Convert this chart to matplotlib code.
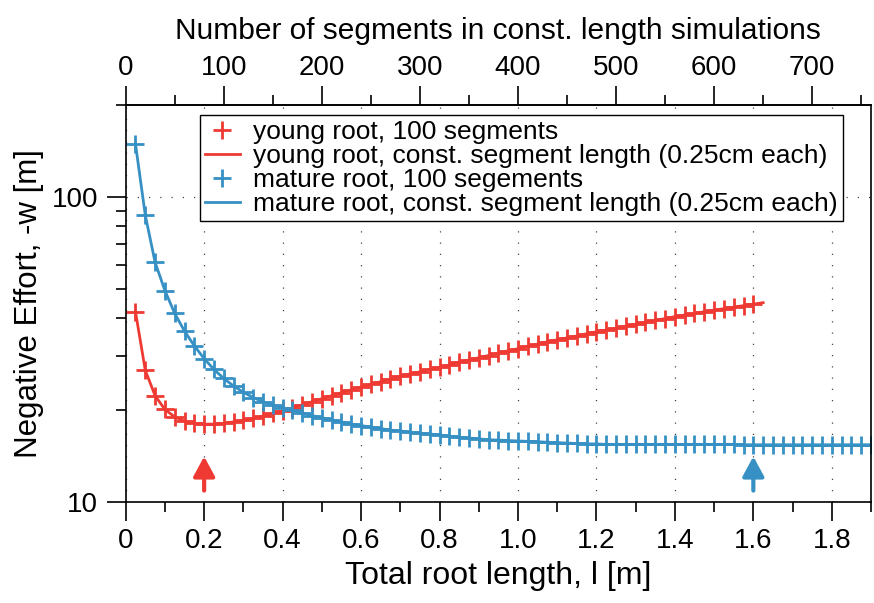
import matplotlib
matplotlib.use('Agg')
import matplotlib.pyplot as plt
from matplotlib.ticker import MultipleLocator, FixedLocator, FuncFormatter, NullFormatter, LogLocator

plt.rcParams['font.family'] = ['Liberation Sans', 'DejaVu Sans']

# root length [m] of the 100-segment runs (one marker each)
young_len = [0.025, 0.05, 0.075, 0.1, 0.125, 0.15, 0.175, 0.2, 0.225, 0.25,
             0.275, 0.3, 0.325, 0.35, 0.375, 0.4, 0.425, 0.45, 0.475, 0.5,
             0.525, 0.55, 0.575, 0.6, 0.625, 0.65, 0.675, 0.7, 0.725, 0.75,
             0.775, 0.8, 0.825, 0.85, 0.875, 0.9, 0.925, 0.95, 0.975, 1.0,
             1.025, 1.05, 1.075, 1.1, 1.125, 1.15, 1.175, 1.2, 1.225, 1.25,
             1.275, 1.3, 1.325, 1.35, 1.375, 1.4, 1.425, 1.45, 1.475, 1.5,
             1.525, 1.55, 1.575, 1.6]
young_w = [42.0, 27.0, 22.3, 20.1, 19.0, 18.4, 18.1, 18.0, 18.0, 18.1,
           18.3, 18.5, 18.8, 19.1, 19.5, 19.9, 20.3, 20.8, 21.3, 21.8,
           22.3, 22.8, 23.3, 23.8, 24.3, 24.8, 25.3, 25.8, 26.3, 26.7,
           27.2, 27.6, 28.1, 28.7, 29.2, 29.7, 30.2, 30.7, 31.3, 31.8,
           32.4, 32.9, 33.5, 34.0, 34.5, 35.0, 35.6, 36.1, 36.6, 37.1,
           37.7, 38.2, 38.8, 39.4, 39.9, 40.5, 41.0, 41.5, 42.0, 42.5,
           43.0, 43.5, 44.0, 44.5]

mature_len = young_len + [1.625, 1.65, 1.675, 1.7, 1.725, 1.75, 1.775, 1.8,
                          1.825, 1.85, 1.875, 1.9]
mature_w = [149, 87, 61, 49.3, 41.5, 36.3, 32.5, 29.5, 27.2, 25.4,
            24.0, 22.9, 22.0, 21.3, 20.8, 20.4, 20.0, 19.6, 19.2, 18.9,
            18.6, 18.3, 18.0, 17.8, 17.6, 17.4, 17.2, 17.1, 16.9, 16.8,
            16.7, 16.6, 16.4, 16.3, 16.2, 16.1, 16.0, 15.95, 15.9, 15.85,
            15.8, 15.75, 15.7, 15.65, 15.6, 15.55, 15.5, 15.5, 15.45, 15.45,
            15.45, 15.45, 15.45, 15.45, 15.45, 15.45, 15.45, 15.45, 15.45, 15.45,
            15.45, 15.45, 15.4, 15.4, 15.4, 15.4, 15.4, 15.4, 15.4, 15.4,
            15.4, 15.4, 15.4, 15.4, 15.4, 15.4]

# const. segment length runs (the red one stops at 650 segments)
young_line_len = young_len + [1.625]
young_line_w = young_w + [45.0]
mature_line_len = mature_len
mature_line_w = mature_w

seg_len = 0.0025  # 0.25 cm
seg_ticks = [0, 100, 200, 300, 400, 500, 600, 700]
seg_minor = [50, 150, 250, 350, 450, 550, 650, 750]
opt_len = [0.2, 1.6]
arrow_w = [10.9, 14.1]

red = '#EE3A33'
blue = '#3690C4'

fig = plt.figure(figsize=(8.74, 6.03), dpi=100)
ax = fig.add_axes([0.1438, 0.1675, 0.8528, 0.6584])

ax.plot(young_len, young_w, ls='none', marker='+', ms=13, mew=2, color=red,
        label='young root, 100 segments')
ax.plot(young_line_len, young_line_w, lw=2, color=red,
        label='young root, const. segment length (0.25cm each)')
ax.plot(mature_len, mature_w, ls='none', marker='+', ms=13, mew=2, color=blue,
        label='mature root, 100 segements')
ax.plot(mature_line_len, mature_line_w, lw=2, color=blue,
        label='mature root, const. segment length (0.25cm each)')

for xo, c in zip(opt_len, [red, blue]):
    ax.annotate('', xy=(xo, arrow_w[1]), xytext=(xo, arrow_w[0]),
                arrowprops=dict(arrowstyle='-|>,head_width=0.65,head_length=1.2',
                                lw=3, color=c, shrinkA=0, shrinkB=0))

ax.set_yscale('log')
ax.set_xlim(0, 1.9)
ax.set_ylim(10, 200)

ax.xaxis.set_major_locator(MultipleLocator(0.2))
ax.xaxis.set_minor_locator(MultipleLocator(0.1))
ax.xaxis.set_major_formatter(FuncFormatter(lambda v, p: '0' if abs(v) < 1e-9 else '%.1f' % v))
ax.yaxis.set_major_locator(FixedLocator([10, 100]))
ax.yaxis.set_minor_locator(LogLocator(base=10, subs=range(2, 10)))
ax.yaxis.set_major_formatter(FuncFormatter(lambda v, p: '%d' % v))
ax.yaxis.set_minor_formatter(NullFormatter())

ax.tick_params(which='both', direction='out', labelsize=20, width=1.2, top=False, right=False)
ax.tick_params(which='major', length=14, pad=5)
ax.tick_params(axis='y', which='major', pad=6)
ax.tick_params(which='minor', length=7)
for s in ax.spines.values():
    s.set_linewidth(1.2)

ax.grid(True, which='major', color='#444444', lw=0.9, ls=(0, (1, 8)))

ax.set_xlabel('Total root length, l [m]', fontsize=23, labelpad=5)
ax.set_ylabel('Negative Effort, -w [m]', fontsize=22.5, labelpad=5)

top = ax.secondary_xaxis('top', functions=(lambda x: x / seg_len, lambda n: n * seg_len))
top.xaxis.set_major_locator(FixedLocator(seg_ticks))
top.xaxis.set_minor_locator(FixedLocator(seg_minor))
top.tick_params(which='both', direction='out', labelsize=20, width=1.2)
top.tick_params(which='major', length=14, pad=3)
top.tick_params(which='minor', length=7)
top.set_xlabel('Number of segments in const. length simulations', fontsize=21.5, labelpad=12)
top.spines['top'].set_linewidth(1.2)

leg = ax.legend(loc='upper left', bbox_to_anchor=(0.0997, 0.975), fontsize=19,
                frameon=True, fancybox=False, framealpha=1, edgecolor='black',
                handlelength=1.3, handletextpad=0.5, labelspacing=0.0,
                borderpad=0.2, borderaxespad=0)
leg.get_frame().set_linewidth(1.0)

fig.savefig('out.png', dpi=100)
